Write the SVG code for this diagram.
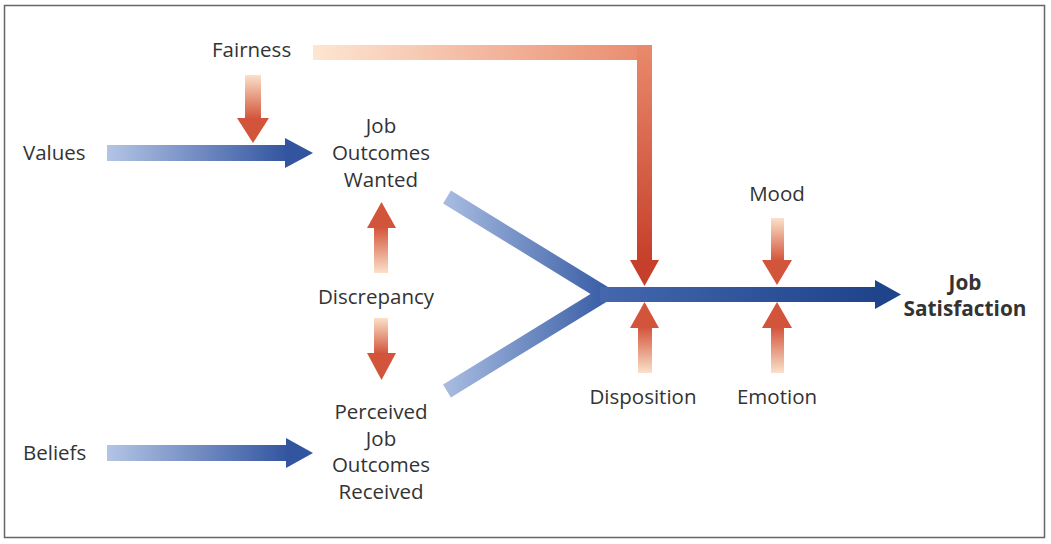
<svg xmlns="http://www.w3.org/2000/svg" width="1051" height="544" viewBox="0 0 1051 544">
<style>
text{font-family:"Open Sans","Noto Sans","Liberation Sans",sans-serif;font-size:20.5px;fill:#333;}
.c{text-anchor:middle;}
.b{font-weight:bold;font-size:20.8px;}
</style>
<defs>
<linearGradient id="bh" x1="0" y1="0" x2="1" y2="0"><stop offset="0" stop-color="#b3c5e5"/><stop offset="1" stop-color="#3355a0"/></linearGradient>
<linearGradient id="main" x1="0" y1="0" x2="1" y2="0"><stop offset="0" stop-color="#4467ad"/><stop offset="1" stop-color="#1f448b"/></linearGradient>
<linearGradient id="ybr" gradientUnits="userSpaceOnUse" x1="447" y1="0" x2="605" y2="0"><stop offset="0" stop-color="#a7bbe0"/><stop offset="1" stop-color="#3a5ea6"/></linearGradient>
<linearGradient id="rdown" x1="0" y1="0" x2="0" y2="1"><stop offset="0" stop-color="#fbe0c9"/><stop offset="1" stop-color="#d2543a"/></linearGradient>
<linearGradient id="rup" x1="0" y1="1" x2="0" y2="0"><stop offset="0" stop-color="#fbe0c9"/><stop offset="1" stop-color="#d2543a"/></linearGradient>
<linearGradient id="fh" x1="0" y1="0" x2="1" y2="0"><stop offset="0" stop-color="#fde6d2"/><stop offset="1" stop-color="#e98a6c"/></linearGradient>
<linearGradient id="fv" x1="0" y1="0" x2="0" y2="1"><stop offset="0" stop-color="#e98a6c"/><stop offset="1" stop-color="#c63f2a"/></linearGradient>
</defs>
<rect x="4.5" y="5.5" width="1040" height="532" fill="#fff" stroke="#666" stroke-width="1.5"/>

<g id="connectors">
  <rect x="107" y="145" width="180" height="16" fill="url(#bh)"/>
  <polygon points="285,138 313,153 285,168" fill="#3355a0"/>
  <rect x="107" y="445" width="181" height="16" fill="url(#bh)"/>
  <polygon points="286,438 313,453 286,468" fill="#3355a0"/>
  <rect x="245" y="75" width="16" height="44" fill="url(#rdown)"/>
  <polygon points="237,118 269,118 253,143" fill="#d2543a"/>
  <rect x="313" y="45" width="339" height="15" fill="url(#fh)"/>
  <rect x="637" y="45" width="15" height="216" fill="url(#fv)"/>
  <polygon points="630,260 659,260 644.5,286" fill="#c63f2a"/>
  <rect x="374" y="227" width="14" height="46" fill="url(#rup)"/>
  <polygon points="367,228 396,228 381.5,202" fill="#d2543a"/>
  <rect x="374" y="318" width="14" height="36" fill="url(#rdown)"/>
  <polygon points="367,353 396,353 381.5,380" fill="#d2543a"/>
  <path d="M447,197 L605,294 L447,391" fill="none" stroke="url(#ybr)" stroke-width="15" stroke-linejoin="miter"/>
  <rect x="600" y="287" width="276" height="15" fill="url(#main)"/>
  <polygon points="875,280 901,294.5 875,309" fill="#1f448b"/>
  <rect x="638" y="327" width="14" height="46" fill="url(#rup)"/>
  <polygon points="630,328 659,328 644.5,302" fill="#d2543a"/>
  <rect x="771" y="218" width="13" height="43" fill="url(#rdown)"/>
  <polygon points="762,260 792,260 777,285" fill="#d2543a"/>
  <rect x="771" y="327" width="13" height="46" fill="url(#rup)"/>
  <polygon points="762,328 792,328 777,302" fill="#d2543a"/>
</g>

<g id="values"><text x="23" y="160">Values</text></g>
<g id="beliefs"><text x="23" y="460">Beliefs</text></g>
<g id="fairness"><text x="212" y="57">Fairness</text></g>
<g id="wanted">
  <text class="c" x="381" y="133">Job</text>
  <text class="c" x="381" y="160">Outcomes</text>
  <text class="c" x="381" y="187">Wanted</text>
</g>
<g id="discrepancy"><text class="c" x="376" y="304">Discrepancy</text></g>
<g id="received">
  <text class="c" x="381" y="419">Perceived</text>
  <text class="c" x="381" y="446">Job</text>
  <text class="c" x="381" y="472">Outcomes</text>
  <text class="c" x="381" y="499">Received</text>
</g>
<g id="disposition"><text class="c" x="643" y="404">Disposition</text></g>
<g id="mood"><text class="c" x="777" y="201">Mood</text></g>
<g id="emotion"><text class="c" x="777" y="404">Emotion</text></g>
<g id="jobsat">
  <text class="c b" x="965" y="290">Job</text>
  <text class="c b" x="965" y="316">Satisfaction</text>
</g>
</svg>
